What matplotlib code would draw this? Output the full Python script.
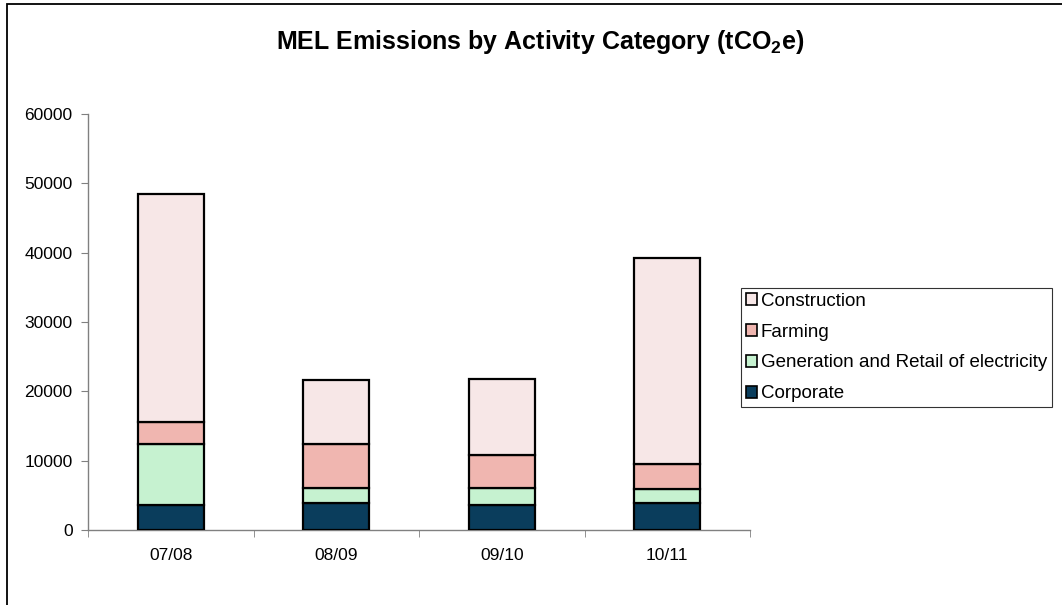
import matplotlib
matplotlib.use("Agg")
import matplotlib.pyplot as plt
from matplotlib.patches import Rectangle, Patch
import numpy as np

plt.rcParams['font.family'] = ['Liberation Sans', 'DejaVu Sans']
plt.rcParams['mathtext.fontset'] = 'custom'
plt.rcParams['mathtext.bf'] = 'Liberation Sans:bold'
plt.rcParams['mathtext.rm'] = 'Liberation Sans:bold'
plt.rcParams['mathtext.default'] = 'bf'

years = ['07/08', '08/09', '09/10', '10/11']
corporate = [3600, 3850, 3650, 3950]
generation = [8850, 2150, 2350, 1900]
farming = [3100, 6400, 4750, 3650]
construction = [32950, 9300, 11100, 29700]

series = [
    ('Corporate', corporate, '#0A3D5C'),
    ('Generation and Retail of electricity', generation, '#C6F2D0'),
    ('Farming', farming, '#F0B6B0'),
    ('Construction', construction, '#F7E7E7'),
]

W, H = 1062, 605
fig = plt.figure(figsize=(W / 100, H / 100), dpi=100)
ax = fig.add_axes([88 / W, 1 - 530 / H, (750 - 88) / W, (530 - 114) / H])

x = np.arange(len(years))
bottom = np.zeros(len(years))
for name, vals, col in series:
    ax.bar(x, vals, width=0.4, bottom=bottom, color=col, edgecolor='black',
           linewidth=1.6, label=name, zorder=3)
    bottom += np.array(vals)

ax.set_xlim(-0.5, len(years) - 0.5)
ax.set_ylim(0, 60000)
ax.set_yticks(np.arange(0, 60001, 10000))
ax.set_xticks(x)
ax.set_xticklabels(years)
ax.set_xticks(np.arange(-0.5, len(years), 1.0), minor=True)
ax.tick_params(axis='x', which='major', length=0, pad=13, labelsize=12.5)
ax.tick_params(axis='x', which='minor', length=5, direction='out', color='#808080')
ax.tick_params(axis='y', length=5, direction='out', color='#808080', labelsize=12.5, pad=6)
for s in ['top', 'right']:
    ax.spines[s].set_visible(False)
for s in ['left', 'bottom']:
    ax.spines[s].set_color('#808080')
    ax.spines[s].set_linewidth(1.0)

fig.text(540 / W, 1 - 42 / H, 'MEL Emissions by Activity Category (tCO$_2$e)',
         ha='center', va='center', fontsize=18, fontweight='bold')

handles = [Patch(facecolor=c, edgecolor='black', linewidth=1.2, label=n)
           for n, _, c in reversed(series)]
leg = fig.legend(handles=handles, loc='upper left',
                 bbox_to_anchor=(741 / W, 1 - 288 / H), bbox_transform=fig.transFigure,
                 borderaxespad=0, fancybox=False, fontsize=13.5, frameon=True,
                 handlelength=0.6, handleheight=0.6, handletextpad=0.2,
                 labelspacing=0.74, borderpad=0.25)
leg.get_frame().set_edgecolor('black')
leg.get_frame().set_linewidth(0.8)

fig.patches.append(Rectangle((7 / W, -0.05), 1.1, 1 - 4 / H + 0.05, transform=fig.transFigure,
                             fill=False, edgecolor='black', linewidth=1.3))

fig.savefig('out.png', dpi=100)
